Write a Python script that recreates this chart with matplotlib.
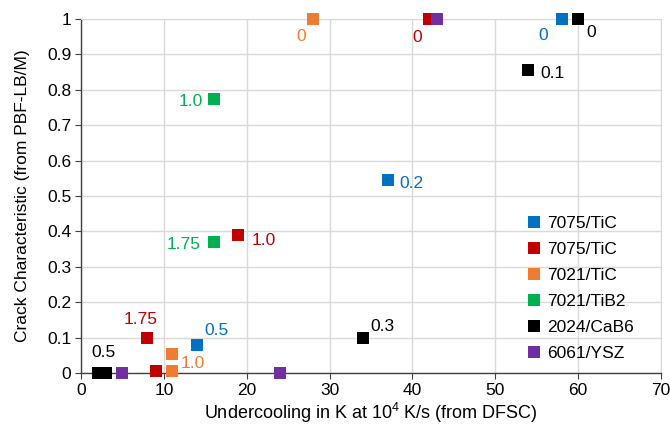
import matplotlib
matplotlib.use('Agg')
import matplotlib.pyplot as plt

plt.rcParams['font.family'] = ['Liberation Sans', 'DejaVu Sans']
plt.rcParams['font.size'] = 12.5
plt.rcParams['mathtext.fontset'] = 'custom'
plt.rcParams['mathtext.rm'] = 'Liberation Sans'
plt.rcParams['mathtext.it'] = 'Liberation Sans'
plt.rcParams['mathtext.bf'] = 'Liberation Sans'

# Datenreihen: Unterkühlung (K) und Rissneigung
series_names = ['7075/TiC', '7075/TiC', '7021/TiC', '7021/TiB2', '2024/CaB6', '6061/YSZ']
series_colors = ['#0070C0', '#C00000', '#ED7D31', '#00B050', '#000000', '#7030A0']

blue_x = [14, 37, 58]
blue_y = [0.08, 0.545, 1.0]
red_x = [8, 9, 19, 42]
red_y = [0.1, 0.005, 0.39, 1.0]
orange_x = [11, 11, 28]
orange_y = [0.055, 0.005, 1.0]
green_x = [16, 16]
green_y = [0.775, 0.37]
black_x = [2, 3, 34, 54, 60]
black_y = [0.0, 0.0, 0.1, 0.855, 1.0]
purple_x = [5, 24, 43]
purple_y = [0.0, 0.0, 1.0]

# Beschriftungen: (Reihe, Punktindex, Text)
point_labels = [
    (0, 0, '0.5'), (0, 1, '0.2'), (0, 2, '0'),
    (1, 0, '1.75'), (1, 2, '1.0'), (1, 3, '0'),
    (2, 1, '1.0'), (2, 2, '0'),
    (3, 0, '1.0'), (3, 1, '1.75'),
    (4, 0, '0.5'), (4, 2, '0.3'), (4, 3, '0.1'), (4, 4, '0'),
]
# Versatz der Beschriftung in Pixel
label_offsets = [
    (19, 14), (24, -3), (-18, -16),
    (-7, 18), (25, -6), (-12, -18),
    (21, 8), (-12, -17),
    (-23, -3), (-30, -2),
    (6, 20), (20, 11), (24, -3), (13, -13),
]


def main():
    xs = [blue_x, red_x, orange_x, green_x, black_x, purple_x]
    ys = [blue_y, red_y, orange_y, green_y, black_y, purple_y]

    fig = plt.figure(figsize=(6.7, 4.3), dpi=100)
    ax = fig.add_axes([0.121, 0.1326, 0.8656, 0.8232])

    for x, y, name, color in zip(xs, ys, series_names, series_colors):
        ax.plot(x, y, linestyle='none', marker='s', markersize=8,
                markeredgewidth=0, color=color, label=name,
                clip_on=False, zorder=3)

    for (s, i, text), (dx, dy) in zip(point_labels, label_offsets):
        ax.annotate(text, (xs[s][i], ys[s][i]), xytext=(dx, dy),
                    textcoords='offset pixels', ha='center', va='center',
                    color=series_colors[s], zorder=4)

    ax.set_xlim(0, 70)
    ax.set_ylim(0, 1)
    ax.set_xticks(range(0, 71, 10))
    ax.set_yticks([i / 10 for i in range(11)])
    ax.set_yticklabels(['0', '0.1', '0.2', '0.3', '0.4', '0.5',
                        '0.6', '0.7', '0.8', '0.9', '1'])
    ax.grid(True, color='#d9d9d9', linewidth=1)
    ax.set_axisbelow(True)
    for side in ['top', 'right']:
        ax.spines[side].set_color('#d9d9d9')
    for side in ['left', 'bottom']:
        ax.spines[side].set_color('#404040')
        ax.spines[side].set_linewidth(1)
    ax.tick_params(direction='out', length=4, color='#404040', pad=3)

    ax.set_xlabel('Undercooling in K at 10$^4$ K/s (from DFSC)', labelpad=2,
                  fontsize=13)
    ax.set_ylabel('Crack Characteristic (from PBF-LB/M)', labelpad=12)

    ax.legend(loc='lower right', bbox_to_anchor=(0.975, 0.0), frameon=False,
              handlelength=0.6, handletextpad=0.5, labelspacing=0.62,
              borderaxespad=0.3)

    fig.savefig('out.png', dpi=100)


if __name__ == "__main__":
    main()
